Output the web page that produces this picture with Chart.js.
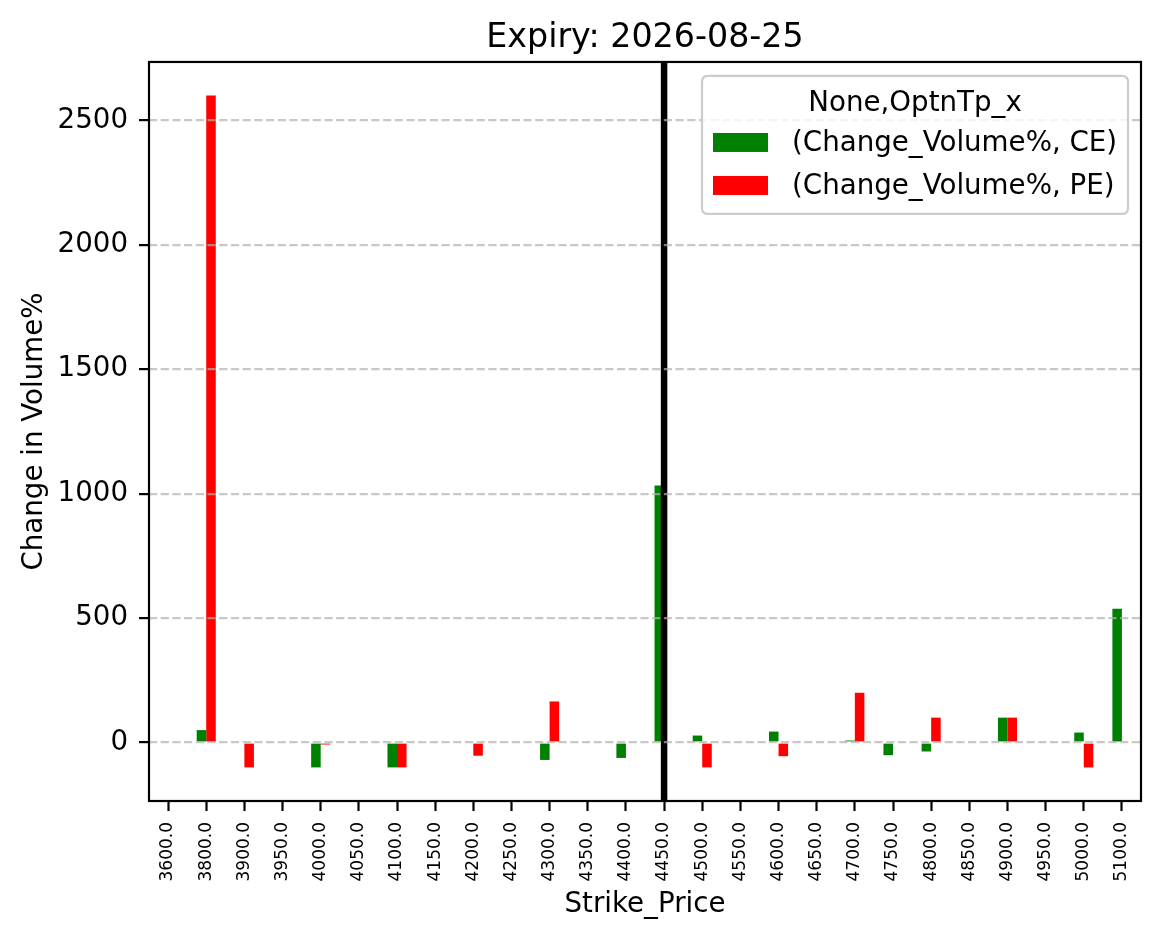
<!DOCTYPE html>
<html>
<head>
<meta charset="utf-8">
<script src="https://cdn.jsdelivr.net/npm/chart.js@4.4.1/dist/chart.umd.min.js"></script>
<style>
  html, body { margin: 0; padding: 0; background: #ffffff; }
  #wrap { width: 1161px; height: 939px; }
</style>
</head>
<body>
<div id="wrap"><canvas id="c" width="1161" height="939"></canvas></div>
<script>
// ---- data ----
const chartTitle = 'Expiry: 2026-08-25';
const strikes = ['3600.0','3800.0','3900.0','3950.0','4000.0','4050.0','4100.0','4150.0','4200.0','4250.0','4300.0','4350.0','4400.0','4450.0','4500.0','4550.0','4600.0','4650.0','4700.0','4750.0','4800.0','4850.0','4900.0','4950.0','5000.0','5100.0'];
const ceValues = [null, 50, null, null, -100, null, -100, null, null, null, -70, null, -62, 1033, 28, null, 44, null, 8, -51, -36, null, 100, null, 40, 538];
const peValues = [null, 2600, -100, null, -8, null, -100, null, -53, null, 165, null, null, null, -100, null, -55, null, 200, null, 100, null, 100, null, -100, null];
const seriesLabels = ['(Change_Volume%, CE)', '(Change_Volume%, PE)'];
const legendTitle = 'None,OptnTp_x';
const yTickValues = [0, 500, 1000, 1500, 2000, 2500];
const markerStrike = '4450.0';
const xTitle = 'Strike_Price';
const yTitle = 'Change in Volume%';

const FONT = '"DejaVu Sans", "Liberation Sans", sans-serif';
const BASE = 27.7;

const frameAndMarker = {
  id: 'frameAndMarker',
  afterDatasetsDraw(chart) {
    const ctx = chart.ctx, a = chart.chartArea;
    const x = chart.scales.x.getPixelForValue(strikes.indexOf(markerStrike));
    ctx.save();
    ctx.strokeStyle = '#000000';
    ctx.lineWidth = 6.5;
    ctx.beginPath();
    ctx.moveTo(x, a.top);
    ctx.lineTo(x, a.bottom);
    ctx.stroke();
    ctx.restore();
  },
  afterDraw(chart) {
    const ctx = chart.ctx, a = chart.chartArea;
    ctx.save();
    ctx.strokeStyle = '#000000';
    ctx.lineWidth = 2.2;
    ctx.strokeRect(a.left, a.top, a.right - a.left, a.bottom - a.top);
    ctx.restore();

    // legend box (upper right inside axes)
    const boxW = 426, boxH = 138;
    const boxL = a.right - 13 - boxW, boxT = a.top + 14;
    ctx.save();
    const r = 6;
    ctx.beginPath();
    ctx.moveTo(boxL + r, boxT);
    ctx.lineTo(boxL + boxW - r, boxT);
    ctx.quadraticCurveTo(boxL + boxW, boxT, boxL + boxW, boxT + r);
    ctx.lineTo(boxL + boxW, boxT + boxH - r);
    ctx.quadraticCurveTo(boxL + boxW, boxT + boxH, boxL + boxW - r, boxT + boxH);
    ctx.lineTo(boxL + r, boxT + boxH);
    ctx.quadraticCurveTo(boxL, boxT + boxH, boxL, boxT + boxH - r);
    ctx.lineTo(boxL, boxT + r);
    ctx.quadraticCurveTo(boxL, boxT, boxL + r, boxT);
    ctx.closePath();
    ctx.fillStyle = 'rgba(255,255,255,0.8)';
    ctx.fill();
    ctx.strokeStyle = 'rgba(204,204,204,1)';
    ctx.lineWidth = 2.2;
    ctx.stroke();
    ctx.fillStyle = '#000000';
    ctx.font = BASE + 'px ' + FONT;
    ctx.textBaseline = 'middle';
    ctx.textAlign = 'center';
    ctx.fillText(legendTitle, boxL + boxW / 2, boxT + 28);
    ctx.textAlign = 'left';
    chart.data.datasets.forEach((ds, i) => {
      const cy = boxT + 66.5 + i * 43;
      ctx.fillStyle = ds.backgroundColor;
      ctx.fillRect(boxL + 11, cy - 9.5, 55, 19);
      ctx.fillStyle = '#000000';
      ctx.fillText(ds.label, boxL + 90, cy + 1);
    });
    ctx.restore();
  }
};

new Chart(document.getElementById('c'), {
  type: 'bar',
  data: {
    labels: strikes,
    datasets: [
      { label: seriesLabels[0], data: ceValues, backgroundColor: '#008000', borderWidth: 0 },
      { label: seriesLabels[1], data: peValues, backgroundColor: '#ff0000', borderWidth: 0 }
    ]
  },
  options: {
    responsive: false,
    animation: false,
    devicePixelRatio: 1,
    layout: { padding: { left: 0, right: 20, top: 0, bottom: 0 } },
    datasets: { bar: { categoryPercentage: 0.5, barPercentage: 1.0 } },
    plugins: {
      legend: { display: false },
      tooltip: { enabled: false },
      title: {
        display: true,
        fullSize: false,
        text: chartTitle,
        color: '#000000',
        font: { family: FONT, size: 33.3, weight: 'normal', lineHeight: 1.2 },
        padding: { top: 18, bottom: 4 }
      }
    },
    scales: {
      x: {
        type: 'category',
        offset: true,
        grid: { display: true, drawOnChartArea: false, drawTicks: true, tickLength: 10, tickColor: '#000000', tickWidth: 2.2, offset: false },
        border: { display: false },
        ticks: {
          autoSkip: false, minRotation: 90, maxRotation: 90, padding: 11,
          color: '#000000', font: { family: FONT, size: 17 }
        },
        title: {
          display: true, text: xTitle, color: '#000000',
          font: { family: FONT, size: BASE, lineHeight: 1.2 },
          padding: { top: 0, bottom: 17.8 }
        },
        afterFit(s) { s.height = 138; s.paddingLeft = 0; s.paddingRight = 0; }
      },
      y: {
        type: 'linear',
        min: -235,
        max: 2735,
        afterBuildTicks(s) { s.ticks = yTickValues.map(v => ({ value: v })); },
        grid: {
          display: true, drawOnChartArea: true, drawTicks: true,
          color: 'rgba(176,176,176,0.7)', lineWidth: 2.2,
          tickLength: 10, tickColor: '#000000', tickWidth: 2.2, tickBorderDash: [],
          z: 1
        },
        border: { display: false, dash: [8.2, 3.5], z: 1 },
        ticks: {
          padding: 11, color: '#000000', font: { family: FONT, size: BASE },
          callback: v => String(v)
        },
        title: {
          display: true, text: yTitle, color: '#000000',
          font: { family: FONT, size: BASE, lineHeight: 1.2 },
          padding: { top: 18.5, bottom: 0 }
        },
        afterFit(s) { s.width = 149; s.paddingTop = 0; s.paddingBottom = 0; }
      }
    }
  },
  plugins: [frameAndMarker]
});
</script>
</body>
</html>
